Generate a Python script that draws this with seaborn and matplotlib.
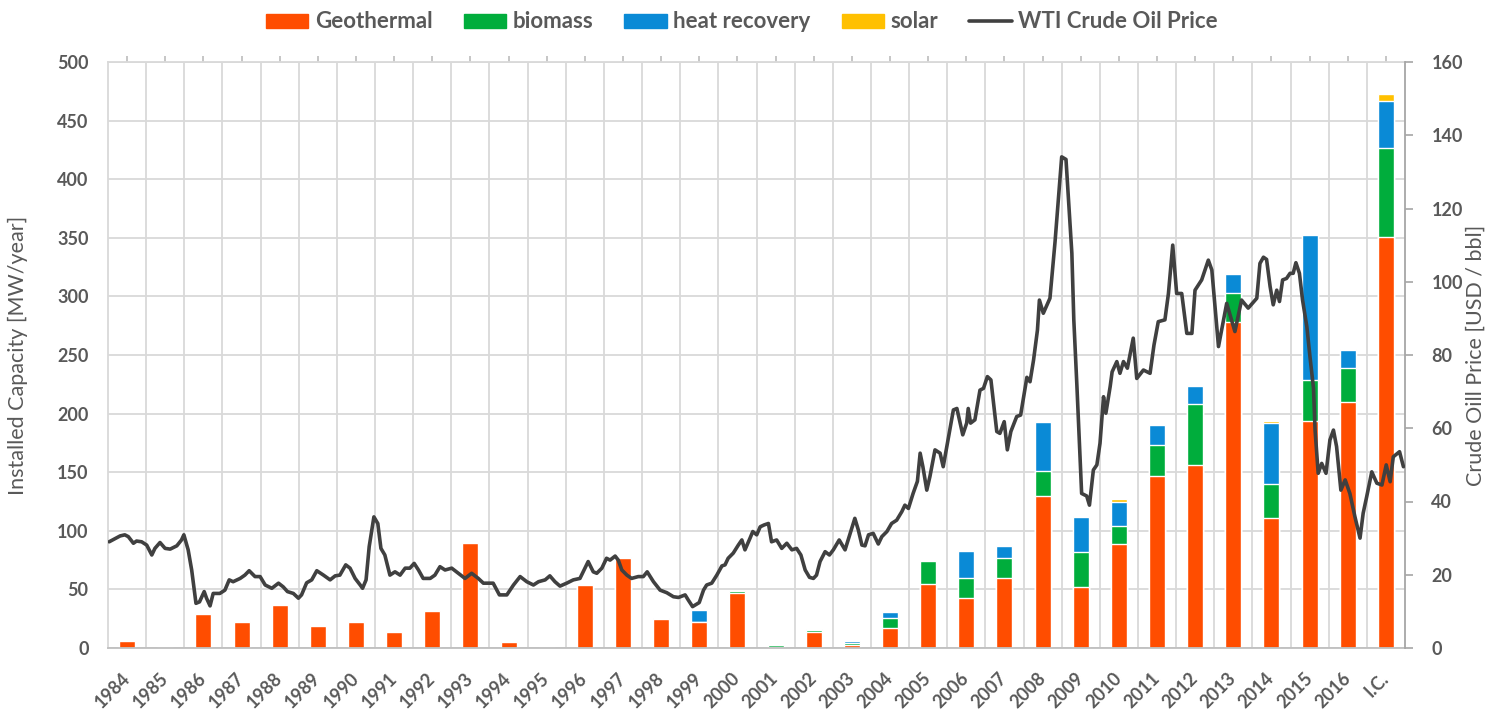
import numpy as np
import pandas as pd
import matplotlib
matplotlib.use('Agg')
import matplotlib.pyplot as plt
import seaborn as sns
from matplotlib.patches import Patch
from matplotlib.lines import Line2D

# installed capacity per year [MW/year]
years = [str(y) for y in range(1984, 2017)] + ['I.C.']
geothermal = [6, 0, 29, 22, 37, 19, 22.5, 13.7, 31.6, 90, 5, 0, 54, 77, 24.5, 22.5, 47, 0.7,
              14, 2.5, 17, 55, 43, 60, 130, 52, 89, 147, 156, 278, 111, 194, 210, 351]
biomass = [0, 0, 0, 0, 0, 0, 0, 0, 0, 0, 0, 0, 0, 0, 0, 0, 1.5, 1.5,
           1.5, 2, 9, 19.5, 17, 17, 21, 30, 15.5, 26, 52, 25, 29, 35, 29, 76]
heat_recovery = [0, 0, 0, 0, 0, 0, 0, 0, 0, 0, 1, 0, 0, 1, 1, 9.5, 0, 0,
                 1, 1.5, 4.7, 0, 23, 10, 42, 29.5, 20.5, 17, 15.5, 16, 52, 123, 15.5, 40]
solar = [0, 0, 0, 0, 0, 0, 0, 0, 0, 0, 0, 0, 0, 0, 0, 0, 0, 0,
         0, 0, 0, 0.8, 0.8, 0, 0, 0.8, 1.8, 0, 0.8, 1, 1.3, 1, 1, 6]

# WTI crude oil price [USD/bbl]
oil_year = [1984.03, 1984.31, 1984.43, 1984.52, 1984.65, 1984.73, 1984.86, 1984.99, 1985.12, 1985.20,
            1985.33, 1985.46, 1985.59, 1985.76, 1985.88, 1985.94, 1986.05, 1986.14, 1986.25, 1986.34,
            1986.46, 1986.52, 1986.61, 1986.69, 1986.86, 1986.99, 1987.10, 1987.20, 1987.38, 1987.50,
            1987.61, 1987.76, 1987.89, 1988.02, 1988.19, 1988.36, 1988.48, 1988.59, 1988.74, 1988.87,
            1988.95, 1989.08, 1989.21, 1989.34, 1989.51, 1989.68, 1989.81, 1989.93, 1990.08, 1990.19,
            1990.32, 1990.45, 1990.51, 1990.60, 1990.68, 1990.80, 1990.90, 1990.98, 1991.08, 1991.21,
            1991.34, 1991.47, 1991.60, 1991.72, 1991.83, 1991.94, 1992.06, 1992.24, 1992.36, 1992.49,
            1992.62, 1992.79, 1992.96, 1993.13, 1993.30, 1993.47, 1993.60, 1993.85, 1994.01, 1994.20,
            1994.37, 1994.54, 1994.71, 1994.88, 1995.01, 1995.18, 1995.30, 1995.43, 1995.56, 1995.73,
            1995.90, 1996.07, 1996.28, 1996.41, 1996.50, 1996.63, 1996.75, 1996.84, 1996.97, 1997.05,
            1997.14, 1997.27, 1997.39, 1997.56, 1997.69, 1997.79, 1997.95, 1998.12, 1998.29, 1998.46,
            1998.59, 1998.76, 1998.84, 1998.95, 1999.12, 1999.23, 1999.31, 1999.44, 1999.57, 1999.70,
            1999.78, 1999.86, 1999.99, 2000.12, 2000.21, 2000.29, 2000.42, 2000.49, 2000.59, 2000.68,
            2000.78, 2000.89, 2000.97, 2001.10, 2001.23, 2001.36, 2001.49, 2001.61, 2001.72, 2001.83,
            2001.94, 2002.04, 2002.12, 2002.21, 2002.34, 2002.45, 2002.55, 2002.70, 2002.85, 2002.98,
            2003.10, 2003.19, 2003.28, 2003.36, 2003.45, 2003.57, 2003.70, 2003.79, 2003.92, 2004.04,
            2004.17, 2004.30, 2004.38, 2004.47, 2004.59, 2004.70, 2004.77, 2004.84, 2004.94, 2005.02,
            2005.15, 2005.28, 2005.36, 2005.49, 2005.62, 2005.71, 2005.86, 2005.96, 2006.00, 2006.06,
            2006.17, 2006.30, 2006.39, 2006.49, 2006.58, 2006.73, 2006.81, 2006.92, 2007.00, 2007.09,
            2007.24, 2007.34, 2007.50, 2007.58, 2007.67, 2007.77, 2007.82, 2007.92, 2008.09, 2008.22,
            2008.39, 2008.50, 2008.65, 2008.70, 2008.78, 2008.90, 2009.03, 2009.10, 2009.20, 2009.29,
            2009.37, 2009.46, 2009.52, 2009.63, 2009.68, 2009.80, 2009.88, 2009.97, 2010.07, 2010.22,
            2010.31, 2010.48, 2010.65, 2010.75, 2010.86, 2011.03, 2011.12, 2011.23, 2011.33, 2011.46,
            2011.59, 2011.72, 2011.80, 2011.97, 2012.14, 2012.23, 2012.40, 2012.61, 2012.82, 2012.99,
            2013.16, 2013.38, 2013.46, 2013.55, 2013.63, 2013.72, 2013.80, 2013.89, 2013.96, 2014.04,
            2014.14, 2014.23, 2014.31, 2014.38, 2014.47, 2014.55, 2014.66, 2014.74, 2014.83, 2014.87,
            2014.95, 2015.04, 2015.15, 2015.25, 2015.34, 2015.42, 2015.53, 2015.64, 2015.76, 2015.89,
            2016.02, 2016.10, 2016.19, 2016.32, 2016.45, 2016.58, 2016.69, 2016.79, 2016.87, 2017.03,
            2017.13]
oil_price = [29.0, 30.6, 30.9, 30.4, 28.6, 29.2, 29.0, 28.1, 25.4, 27.2,
             28.8, 27.2, 27.0, 27.9, 29.5, 30.9, 26.8, 21.3, 12.2, 12.6,
             15.4, 13.6, 11.5, 14.9, 14.9, 15.8, 18.6, 18.1, 19.0, 19.9,
             21.1, 19.5, 19.5, 17.2, 16.3, 17.7, 16.7, 15.4, 14.9, 13.6,
             14.5, 17.8, 18.6, 21.1, 19.9, 18.6, 19.7, 19.9, 22.7, 21.8,
             19.0, 17.2, 16.3, 18.6, 27.7, 35.8, 34.0, 27.2, 25.4, 19.9,
             20.8, 19.9, 21.8, 21.8, 23.1, 21.3, 19.0, 19.0, 19.9, 22.2,
             21.3, 21.8, 20.4, 19.0, 20.4, 19.0, 17.7, 17.7, 14.5, 14.5,
             17.2, 19.5, 18.1, 17.2, 18.1, 18.6, 19.7, 18.1, 16.9, 17.7,
             18.6, 19.0, 23.6, 20.8, 20.4, 21.8, 24.5, 24.0, 25.1, 24.0,
             21.3, 19.9, 19.0, 19.5, 19.5, 20.8, 18.1, 15.8, 15.1, 14.0,
             13.8, 14.5, 13.1, 11.3, 12.4, 15.8, 17.2, 17.7, 19.9, 22.4,
             22.7, 24.5, 25.9, 28.1, 29.5, 26.8, 30.0, 31.8, 30.9, 33.1,
             33.6, 34.0, 29.0, 29.5, 27.2, 28.6, 26.8, 27.2, 25.4, 21.3,
             19.3, 19.0, 19.9, 23.6, 26.3, 25.4, 26.8, 29.5, 26.8, 31.3,
             35.4, 32.2, 28.1, 27.9, 30.9, 31.3, 28.4, 30.4, 31.8, 34.0,
             34.9, 37.2, 39.0, 38.1, 42.2, 45.5, 53.2, 49.5, 43.1, 46.8,
             54.1, 53.2, 49.5, 57.3, 65.0, 65.4, 58.2, 61.4, 65.4, 61.4,
             62.3, 70.4, 70.9, 74.1, 73.2, 59.1, 58.6, 61.8, 54.1, 59.1,
             63.2, 63.6, 73.9, 72.7, 78.6, 86.8, 95.0, 91.4, 95.5, 110.9,
             134.1, 133.4, 107.8, 89.6, 71.4, 42.2, 41.5, 39.0, 48.6, 50.0,
             55.9, 68.6, 64.1, 71.4, 75.4, 78.2, 75.0, 78.2, 76.4, 84.6,
             73.6, 75.9, 75.0, 82.7, 89.1, 89.6, 96.8, 110.0, 96.8, 96.8,
             85.9, 85.9, 97.7, 100.5, 105.9, 103.2, 82.3, 94.1, 86.4, 95.0,
             92.8, 95.5, 105.0, 106.7, 106.1, 98.7, 93.7, 97.7, 94.6, 100.5,
             100.9, 102.3, 102.3, 105.2, 102.3, 95.0, 87.7, 79.5, 70.9, 59.5,
             47.7, 50.4, 47.7, 56.8, 59.5, 55.0, 43.1, 45.9, 42.2, 35.8,
             30.0, 36.8, 41.3, 48.1, 45.0, 44.5, 50.0, 45.4, 52.2, 53.6,
             49.5]

GEO = '#ff4d00'
BIO = '#00ad3c'
HEAT = '#0a8ad6'
SOLAR = '#ffc000'
OIL = '#404040'
TXT = '#595959'

sns.set_theme(style='white')
plt.rcParams['font.family'] = ['Lato', 'DejaVu Sans']

df = pd.DataFrame({'year': years, 'geo': geothermal, 'bio': biomass,
                   'heat': heat_recovery, 'solar': solar})
df['l1'] = df['geo']
df['l2'] = df['l1'] + df['bio']
df['l3'] = df['l2'] + df['heat']
df['l4'] = df['l3'] + df['solar']

fig = plt.figure(figsize=(14.93, 7.13), dpi=100)
ax = fig.add_axes([108 / 1493, 1 - 648 / 713, 1297 / 1493, 586 / 713])

# stacked bars: draw cumulative totals from the top layer down
for col, c in [('l4', SOLAR), ('l3', HEAT), ('l2', BIO), ('l1', GEO)]:
    sns.barplot(data=df, x='year', y=col, order=years, color=c, width=0.42,
                saturation=1, errorbar=None, ax=ax)

ax.set_xlim(-0.5, len(years) - 0.5)
ax.set_ylim(0, 500)
ax.set_yticks(range(0, 501, 50))
ax.set_xticks(range(len(years)))
ax.set_xticks(np.arange(0.5, len(years) - 1, 1), minor=True)
ax.set_axisbelow(True)
ax.yaxis.grid(True, color='#d9d9d9', lw=1.3)
ax.xaxis.grid(True, which='minor', color='#d9d9d9', lw=1.3)
ax.xaxis.grid(False, which='major')

ax.set_xticklabels(years, rotation=45, ha='right', va='center', rotation_mode='anchor',
                   fontweight='bold', fontsize=13, color=TXT)
ax.tick_params(axis='x', which='major', bottom=False, top=True, length=4,
               color='#bfbfbf', pad=16)
ax.tick_params(axis='x', which='minor', length=0)
ax.tick_params(axis='y', length=0, pad=14, labelsize=13, labelcolor=TXT)
for lbl in ax.get_yticklabels():
    lbl.set_fontweight('bold')
ax.set_xlabel('')
ax.set_ylabel('Installed Capacity [MW/year]', fontsize=15.5, color=TXT)
ax.yaxis.set_label_coords(-0.062, 0.5)

for side, col in [('left', '#d9d9d9'), ('bottom', '#bfbfbf'), ('top', '#d9d9d9')]:
    ax.spines[side].set_color(col)
    ax.spines[side].set_linewidth(1.3)
ax.spines['right'].set_visible(False)

# oil price on the right axis, with its own time axis
ax2 = ax.twinx()
ax2.set_ylim(0, 160)
ax2.set_yticks(range(0, 161, 20))
ax2.tick_params(axis='y', length=6, width=1.2, color='#a6a6a6', pad=13,
                labelsize=13, labelcolor=TXT)
for lbl in ax2.get_yticklabels():
    lbl.set_fontweight('bold')
ax2.set_ylabel('Crude Oill Price [USD / bbl]', fontsize=15.5, color=TXT)
ax2.yaxis.set_label_coords(1.047, 0.5)
for side in ['left', 'top', 'bottom']:
    ax2.spines[side].set_visible(False)
ax2.spines['right'].set_color('#a6a6a6')
ax2.spines['right'].set_linewidth(1.3)

ax3 = ax2.twiny()
sns.lineplot(x=oil_year, y=oil_price, ax=ax3, color=OIL, lw=2.6)
ax3.set_xlim(1984, 2017.17)
ax3.set_ylim(0, 160)
ax3.set_xticks([])
ax3.tick_params(top=False, labeltop=False)
for s in ax3.spines.values():
    s.set_visible(False)

handles = [Patch(color=GEO, label='Geothermal'),
           Patch(color=BIO, label='biomass'),
           Patch(color=HEAT, label='heat recovery'),
           Patch(color=SOLAR, label='solar'),
           Line2D([0], [0], color=OIL, lw=2.6, label='WTI Crude Oil Price')]
fig.legend(handles=handles, loc='upper center', bbox_to_anchor=(0.497, 1.012), ncol=5,
           frameon=False, prop={'weight': 'bold', 'size': 16}, labelcolor=TXT,
           handlelength=1.9, handleheight=0.6, handletextpad=0.3, columnspacing=1.4)

fig.savefig('out.png', dpi=100)
